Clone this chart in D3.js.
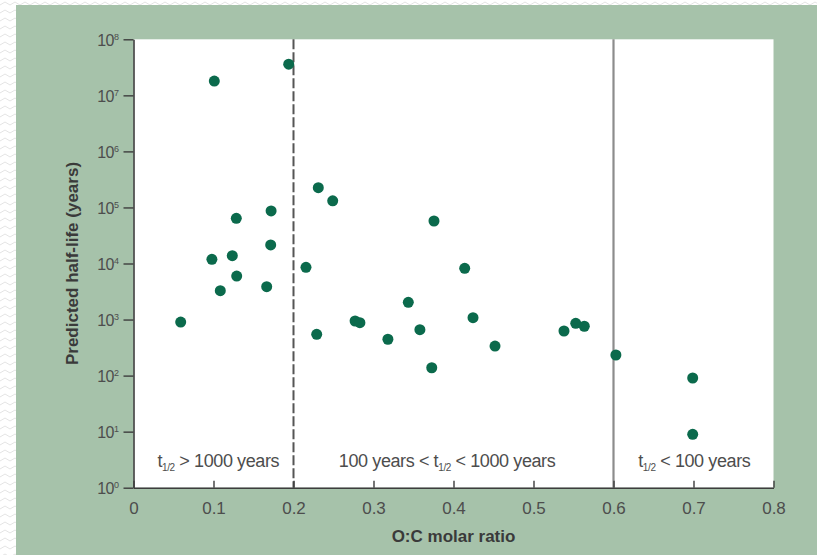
<!DOCTYPE html>
<html lang="en">
    <head>
        <meta charset="utf-8">
        <title>O:C molar ratio vs predicted half-life</title>
        <script type="text/javascript" src="https://cdn.jsdelivr.net/npm/d3@7"></script>
        <style>
            body { margin: 0; background: #ffffff; }
            svg text { font-family: "Liberation Sans", Arial, sans-serif; }
        </style>
    </head>

    <body>
        <script type="text/javascript">

            // data: O:C ratio and predicted half-life (years)
            var oc_ratio = [0.059, 0.101, 0.194, 0.098, 0.1085, 0.1285, 0.1235, 0.129,
                            0.172, 0.1715, 0.1665, 0.2156, 0.231, 0.249, 0.229, 0.277,
                            0.283, 0.318, 0.3435, 0.358, 0.3756, 0.3728, 0.414, 0.4244,
                            0.4519, 0.5381, 0.5528, 0.5635, 0.603, 0.699, 0.699];
            var half_life = [900, 1.8e7, 3.6e7, 11900, 3270, 64000, 13800, 5980,
                             86500, 21400, 3850, 8550, 225000, 131500, 546, 942,
                             879, 445, 2030, 659, 57300, 138, 8200, 1080,
                             337, 625, 857, 759, 233, 90.6, 8.97];

            var x_ticks = [0, 0.1, 0.2, 0.3, 0.4, 0.5, 0.6, 0.7, 0.8];
            var x_tick_labels = ["0", "0.1", "0.2", "0.3", "0.4", "0.5", "0.6", "0.7", "0.8"];
            var y_ticks = [1, 10, 100, 1000, 1e4, 1e5, 1e6, 1e7, 1e8];
            var y_tick_exps = ["0", "1", "2", "3", "4", "5", "6", "7", "8"];

            // region boundaries and labels
            var boundaries = [0.2, 0.6];
            var region_centers = [0.106, 0.392, 0.701];
            var region_labels = [
                ["t", "1/2", " > 1000 years"],
                ["100 years < t", "1/2", " < 1000 years"],
                ["t", "1/2", " < 100 years"]
            ];

            var width = 817, height = 555;
            var plot_left = 133.5, plot_right = 773.5, plot_top = 39.3, plot_bottom = 487.7;

            var bg_green = "#a6c2aa";
            var dot_color = "#0b6a4c";
            var text_color = "#4d4d4d";

            var svg = d3.select("body")
                .append("svg")
                .attr("width", width)
                .attr("height", height);

            // faint zig-zag page texture behind the panel
            var defs = svg.append("defs");
            var pat = defs.append("pattern")
                .attr("id", "zig")
                .attr("width", 10)
                .attr("height", 8)
                .attr("patternUnits", "userSpaceOnUse");
            pat.append("path")
                .attr("d", "M0,5 L5,2 L10,5")
                .attr("fill", "none")
                .attr("stroke", "#e4e4e4")
                .attr("stroke-width", 1);
            svg.append("rect")
                .attr("width", width)
                .attr("height", height)
                .attr("fill", "url(#zig)");

            // green panel
            svg.append("rect")
                .attr("x", 16)
                .attr("y", 5)
                .attr("width", width - 16)
                .attr("height", height - 5)
                .attr("fill", bg_green);

            var x = d3.scaleLinear().domain([0, 0.8]).range([plot_left, plot_right]);
            var y = d3.scaleLog().domain([1, 1e8]).range([plot_bottom, plot_top]);

            // white plot area
            svg.append("rect")
                .attr("x", x(0))
                .attr("y", y(1e8))
                .attr("width", x(0.8) - x(0))
                .attr("height", y(1) - y(1e8))
                .attr("fill", "#ffffff");

            // region boundary lines
            svg.append("line")
                .attr("x1", x(boundaries[0])).attr("x2", x(boundaries[0]))
                .attr("y1", y(1e8)).attr("y2", y(1))
                .attr("stroke", "#555555")
                .attr("stroke-width", 2)
                .attr("stroke-dasharray", "10,3");
            svg.append("line")
                .attr("x1", x(boundaries[1])).attr("x2", x(boundaries[1]))
                .attr("y1", y(1e8)).attr("y2", y(1))
                .attr("stroke", "#8c8c8c")
                .attr("stroke-width", 2.2);

            // region labels
            region_labels.forEach(function(parts, i) {
                var t = svg.append("text")
                    .attr("x", x(region_centers[i]))
                    .attr("y", 467)
                    .attr("text-anchor", "middle")
                    .attr("font-size", 18)
                    .attr("letter-spacing", -0.4)
                    .attr("fill", text_color);
                t.append("tspan").text(parts[0]);
                t.append("tspan")
                    .attr("font-size", 10)
                    .attr("dy", 4)
                    .text(parts[1]);
                t.append("tspan")
                    .attr("dy", -4)
                    .text(parts[2]);
            });

            // x axis (ticks point into the plot)
            var x_axis = d3.axisBottom(x)
                .tickValues(x_ticks)
                .tickSizeInner(-7)
                .tickSizeOuter(0)
                .tickPadding(14)
                .tickFormat(function(d, i) { return x_tick_labels[i]; });
            var gx = svg.append("g")
                .attr("transform", "translate(0," + y(1) + ")")
                .call(x_axis);
            gx.select(".domain").attr("stroke", "#3d3d3d").attr("stroke-width", 1.6);
            gx.selectAll(".tick line").attr("stroke", "#3d3d3d").attr("stroke-width", 1.4);
            gx.selectAll(".tick text")
                .attr("font-size", 17)
                .attr("fill", text_color);

            // y axis with power-of-ten labels
            var y_axis = d3.axisLeft(y)
                .tickValues(y_ticks)
                .tickSizeInner(10)
                .tickSizeOuter(0)
                .tickFormat("");
            var gy = svg.append("g")
                .attr("transform", "translate(" + x(0) + ",0)")
                .call(y_axis);
            gy.select(".domain").attr("stroke", "#3d3d3d").attr("stroke-width", 1.6);
            gy.selectAll(".tick line").attr("stroke", "#3d3d3d").attr("stroke-width", 1.4);
            gy.selectAll(".tick text").remove();
            gy.selectAll(".tick").each(function(d, i) {
                var t = d3.select(this).append("text")
                    .attr("x", -15)
                    .attr("dy", "0.36em")
                    .attr("text-anchor", "end")
                    .attr("font-size", 16)
                    .attr("letter-spacing", -0.5)
                    .attr("fill", text_color);
                t.append("tspan").text("10");
                t.append("tspan")
                    .attr("font-size", 9)
                    .attr("dy", -6)
                    .text(y_tick_exps[i]);
            });

            // axis titles
            svg.append("text")
                .attr("x", (plot_left + plot_right) / 2)
                .attr("y", 542)
                .attr("text-anchor", "middle")
                .attr("font-size", 17)
                .attr("font-weight", "bold")
                .attr("fill", "#3a3a3a")
                .text("O:C molar ratio");
            svg.append("text")
                .attr("transform", "translate(78," + (plot_top + plot_bottom) / 2 + ") rotate(-90)")
                .attr("text-anchor", "middle")
                .attr("font-size", 17)
                .attr("font-weight", "bold")
                .attr("fill", "#3a3a3a")
                .text("Predicted half-life (years)");

            // data points
            svg.append("g")
                .selectAll("circle")
                .data(oc_ratio)
                .enter()
                .append("circle")
                .attr("cx", function(d) { return x(d); })
                .attr("cy", function(d, i) { return y(half_life[i]); })
                .attr("r", 5.5)
                .attr("fill", dot_color);
        </script>
    </body>
</html>
